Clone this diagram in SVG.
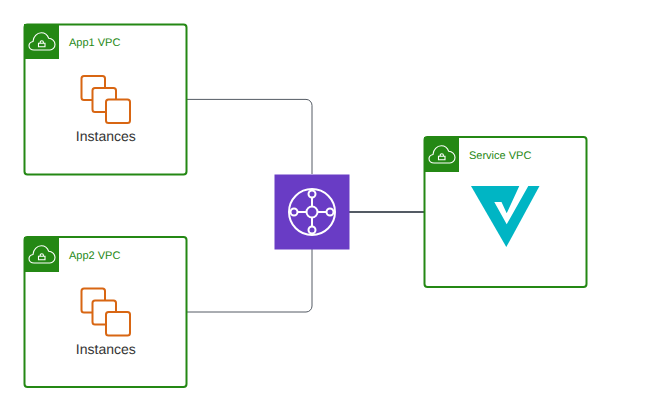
<svg xmlns="http://www.w3.org/2000/svg" width="657" height="413" viewBox="0 0 657 413">
<style>
text{text-rendering:geometricPrecision}
.vpc{fill:#fff;stroke:#248814;stroke-width:2}
.tab{fill:#248814}
.ic{fill:none;stroke:#fff;stroke-width:1.1}
.lbl{font:11px "Liberation Sans",Arial,sans-serif;fill:#248814}
.inst{font:14px "Liberation Sans",Arial,sans-serif;fill:#333;text-anchor:middle}
.ec{fill:#fff;stroke:#d86613;stroke-width:2}
.conn{fill:none;stroke:#545b64;stroke-width:1}
.thick{stroke-width:2}
.w{fill:none;stroke:#fff;stroke-width:2}
</style>
<defs>
<g id="cloud">
<path class="ic" d="M10 26C7 26 5 24.200 5 21.800C5 19.600 6.500 18 9 17.500C9.200 12.500 13 8.800 17.300 8.800C20.800 8.800 23.500 11 24.700 14.300C28 14.300 31 17.200 31 20.500C31 23.800 28.500 26 26 26Z"/>
<path class="ic" d="M14.500 19.300h6.500v3.500h-6.500zM16.200 19.300v-1a1.600 1.600 0 0 1 3.200 0v1"/>
</g>
<g id="instances">
<path class="ec" d="M93 100H84a2.500 2.500 0 0 1-2.500-2.500V78.500a2.500 2.500 0 0 1 2.500-2.500H102.500a2.500 2.500 0 0 1 2.500 2.500V88"/>
<path class="ec" d="M106 112H95a2.500 2.500 0 0 1-2.500-2.500V90.500a2.500 2.500 0 0 1 2.500-2.500H113.500a2.500 2.500 0 0 1 2.500 2.500V99"/>
<rect class="ec" x="106" y="99.500" width="24" height="23.500" rx="2.500"/>
</g>
</defs>
<g id="connectors">
<path class="conn" d="M187 99.400H306a6 6 0 0 1 6 6V174"/>
<path class="conn" d="M187 312H306a6 6 0 0 0 6-6V249"/>
<path class="conn thick" d="M349 212H424"/>
</g>
<g id="app1-vpc">
<rect class="vpc" x="24.500" y="24.500" width="162" height="150" rx="3"/>
<rect class="tab" x="24" y="24" width="35" height="35"/>
<use href="#cloud" x="24" y="24"/>
<text class="lbl" x="69" y="46">App1 VPC</text>
<use href="#instances"/>
<text class="inst" x="105.800" y="141">Instances</text>
</g>
<g id="app2-vpc">
<rect class="vpc" x="24.500" y="237" width="162" height="150" rx="3"/>
<rect class="tab" x="24" y="237" width="35" height="35"/>
<use href="#cloud" x="24" y="237"/>
<text class="lbl" x="69" y="258.500">App2 VPC</text>
<use href="#instances" y="212.500"/>
<text class="inst" x="105.800" y="354">Instances</text>
</g>
<g id="transit-gateway">
<rect x="274.500" y="174.500" width="75" height="75" fill="#693cc5"/>
<circle class="w" cx="312" cy="212" r="23"/>
<circle class="w" cx="312" cy="212" r="5.500"/>
<circle class="w" cx="312" cy="194" r="3.500"/>
<circle class="w" cx="312" cy="230" r="3.500"/>
<circle class="w" cx="294" cy="212" r="3.500"/>
<circle class="w" cx="330" cy="212" r="3.500"/>
<path class="w" d="M312 197.500V206.500M312 217.500V226.500M297.500 212H306.500M317.500 212H326.500"/>
</g>
<g id="service-vpc">
<rect class="vpc" x="424.500" y="137" width="162" height="150" rx="3"/>
<rect class="tab" x="424" y="137" width="35" height="35"/>
<use href="#cloud" x="424" y="137"/>
<text class="lbl" x="469" y="158.500">Service VPC</text>
<path fill="#00b5c4" d="M471 186H539.500L506.300 247Z"/>
<path fill="#fff" d="M494.300 202H501.500L506.700 213.300L519.300 186H528.300L506.700 224.300Z"/>
</g>
</svg>
